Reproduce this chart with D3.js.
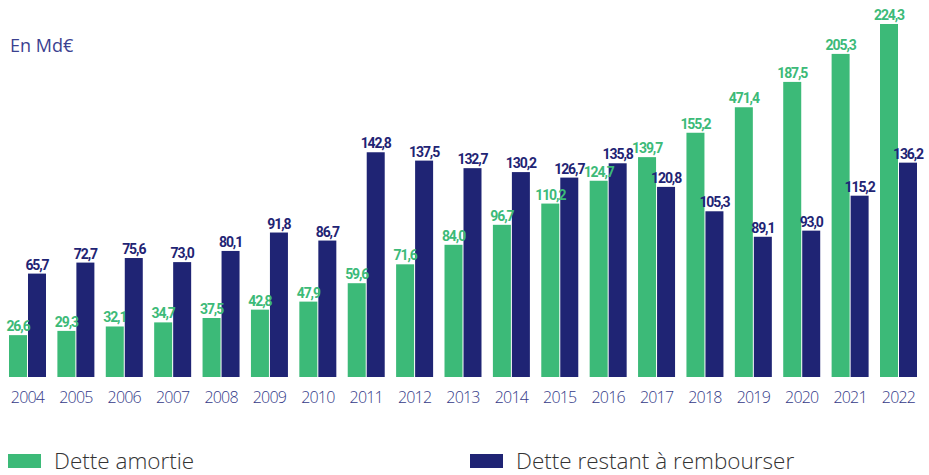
<!DOCTYPE html>
<html>
<head>
<meta charset="utf-8">
<script src="https://cdn.jsdelivr.net/npm/d3@7"></script>
<style>
  body { margin: 0; background: #fff; }
  svg { display: block; }
  .val { font-family: Roboto, sans-serif; font-weight: 700; font-size: 14px; letter-spacing: -1.1px; }
  .year { font-family: "Open Sans", sans-serif; font-weight: 300; font-size: 16px; letter-spacing: -0.8px; fill: #343a88; }
  .unit { font-family: "Open Sans", sans-serif; font-weight: 400; font-size: 18px; fill: #3b4190; }
  .leg { font-family: "Open Sans", sans-serif; font-weight: 300; font-size: 22.5px; fill: #333; }
</style>
</head>
<body>
<svg width="929" height="475"></svg>
<script>
var years = ["2004","2005","2006","2007","2008","2009","2010","2011","2012","2013",
             "2014","2015","2016","2017","2018","2019","2020","2021","2022"];

var amortie = [26.6, 29.3, 32.1, 34.7, 37.5, 42.8, 47.9, 59.6, 71.6, 84.0,
               96.7, 110.2, 124.7, 139.7, 155.2, 171.4, 187.5, 205.3, 224.3];

// labels as printed (the 2019 one reads 471,4 on the source)
var amortieLabels = ["26,6","29,3","32,1","34,7","37,5","42,8","47,9","59,6","71,6","84,0",
                     "96,7","110,2","124,7","139,7","155,2","471,4","187,5","205,3","224,3"];

var restant = [65.7, 72.7, 75.6, 73.0, 80.1, 91.8, 86.7, 142.8, 137.5, 132.7,
               130.2, 126.7, 135.8, 120.8, 105.3, 89.1, 93.0, 115.2, 136.2];

var seriesNames = ["Dette amortie", "Dette restant à rembourser"];
var colors = ["#3cba78", "#1f2474"];

var svg = d3.select("svg");

var x = d3.scaleBand()
  .domain(years)
  .range([9, 917])
  .paddingInner(0.2355);

var barW = (x.bandwidth() - 1) / 2;

var y = d3.scaleLinear()
  .domain([0, 224.3])
  .range([377, 24]);

var fmt = function(v) { return d3.format(".1f")(v).replace(".", ","); };

var rows = years.map(function(yr, i) {
  return { year: yr, a: amortie[i], aLabel: amortieLabels[i], r: restant[i], rLabel: fmt(restant[i]) };
});

var g = svg.append("g");

var groups = g.selectAll(".grp")
  .data(rows)
  .enter().append("g")
  .attr("class", "grp")
  .attr("transform", function(d) { return "translate(" + x(d.year) + ",0)"; });

groups.append("rect")
  .attr("x", 0)
  .attr("width", barW)
  .attr("y", function(d) { return y(d.a); })
  .attr("height", function(d) { return y(0) - y(d.a); })
  .attr("fill", colors[0]);

groups.append("rect")
  .attr("x", barW + 1)
  .attr("width", barW)
  .attr("y", function(d) { return y(d.r); })
  .attr("height", function(d) { return y(0) - y(d.r); })
  .attr("fill", colors[1]);

groups.append("text")
  .attr("class", "val")
  .attr("x", barW / 2)
  .attr("y", function(d) { return y(d.a) - 4; })
  .attr("text-anchor", "middle")
  .attr("fill", colors[0])
  .text(function(d) { return d.aLabel; });

groups.append("text")
  .attr("class", "val")
  .attr("x", barW + 1 + barW / 2)
  .attr("y", function(d) { return y(d.r) - 4; })
  .attr("text-anchor", "middle")
  .attr("fill", colors[1])
  .text(function(d) { return d.rLabel; });

// year axis, no line
var axis = d3.axisBottom(x).tickSize(0).tickPadding(0);
var ax = svg.append("g")
  .attr("transform", "translate(0,377)")
  .call(axis);
ax.select(".domain").remove();
ax.selectAll("text")
  .attr("class", "year")
  .attr("y", 26)
  .attr("dy", null)
  .attr("fill", null);
ax.attr("font-family", null).attr("font-size", null);

svg.append("text")
  .attr("class", "unit")
  .attr("x", 10)
  .attr("y", 52)
  .text("En Md€");

// legend
var legX = [8, 470];
var leg = svg.selectAll(".legItem")
  .data(seriesNames)
  .enter().append("g")
  .attr("class", "legItem")
  .attr("transform", function(d, i) { return "translate(" + legX[i] + ",454)"; });

leg.append("rect")
  .attr("width", 33)
  .attr("height", 14)
  .attr("fill", function(d, i) { return colors[i]; });

leg.append("text")
  .attr("class", "leg")
  .attr("x", 46)
  .attr("y", 15)
  .text(function(d) { return d; });
</script>
</body>
</html>
